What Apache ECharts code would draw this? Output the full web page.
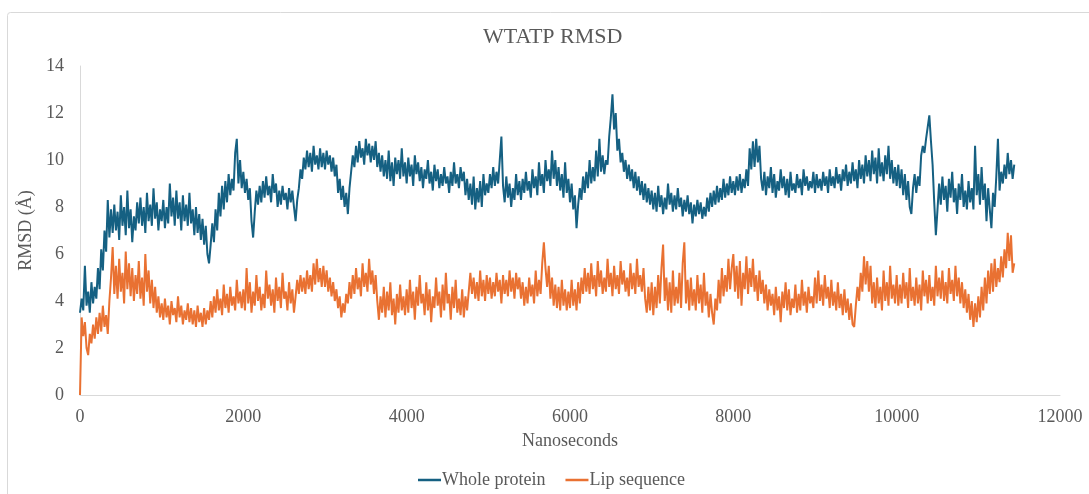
<!DOCTYPE html>
<html>
<head>
<meta charset="utf-8">
<script src="https://cdn.jsdelivr.net/npm/echarts@6/dist/echarts.min.js"></script>
<style>html,body{margin:0;padding:0;background:#fff;font-family:"Liberation Serif",serif;}#c{width:1089px;height:494px;}</style>
</head>
<body>
<div id="c"></div>
<script>
const title = 'WTATP RMSD';
const seriesNames = ['Whole protein', 'Lip sequence'];
const xAxisName = 'Nanoseconds';
const yAxisName = 'RMSD (Å)';
const sampleStepNs = 20;
const xTicks = [0, 2000, 4000, 6000, 8000, 10000, 12000];
const yTicks = [0, 2, 4, 6, 8, 10, 12, 14];

const wholeProtein = [
3.5,4.1,3.6,5.5,3.8,4.4,3.5,4.8,3.9,4.6,4.1,5.4,4.5,6.2,5.3,7.0,6.1,8.3,6.7,7.9,6.9,8.1,7.0,7.8,6.6,8.5,7.2,8.0,6.8,8.7,7.1,7.9,6.5,7.6,7.0,8.2,7.3,8.4,7.2,8.0,6.9,8.6,7.4,8.1,7.2,8.8,7.5,8.2,7.0,7.9,
7.4,8.3,7.1,8.0,7.3,9.0,7.6,8.4,7.2,8.7,7.5,8.2,7.0,8.5,7.4,8.1,7.2,8.6,7.3,7.9,6.8,8.0,6.9,7.7,6.6,7.5,6.4,7.2,6.0,5.6,6.4,7.3,6.5,7.9,7.0,8.6,7.6,8.9,7.9,9.1,8.2,9.4,8.5,9.2,8.7,10.3,10.9,9.0,10.0,8.8,
9.5,8.6,9.2,8.3,8.8,7.4,6.7,7.8,8.7,8.1,8.9,8.2,9.1,8.4,9.3,8.5,8.9,8.2,9.4,8.6,9.0,8.0,8.7,8.1,8.9,8.3,8.6,7.9,8.8,8.2,8.7,8.0,7.4,8.3,8.8,9.6,9.2,10.1,9.6,10.4,9.7,10.3,9.5,10.6,9.8,10.2,9.6,10.5,9.7,10.3,
9.6,10.4,9.8,10.2,9.5,10.1,9.3,9.8,8.6,9.2,8.3,8.9,8.0,8.6,7.7,8.8,9.5,10.2,9.7,10.6,9.9,10.8,10.1,10.5,9.8,10.9,10.2,10.7,9.9,10.6,10.0,10.8,9.7,10.3,9.5,10.2,9.3,10.0,9.2,10.4,9.1,9.9,8.9,10.1,9.4,10.0,9.2,10.5,9.3,9.9,
9.0,10.1,9.3,9.8,8.9,10.2,9.4,9.9,9.1,9.7,8.8,9.6,9.2,10.0,9.0,9.5,8.7,9.8,9.1,9.6,8.8,9.4,8.9,9.7,9.0,9.3,8.6,9.5,8.9,9.9,9.0,9.4,8.8,9.7,9.1,9.5,8.5,9.2,8.3,9.0,8.1,9.3,7.9,8.8,8.2,9.1,8.0,9.4,8.5,9.0,
8.6,9.4,8.8,9.7,8.9,9.5,9.0,10.0,11.0,8.9,8.2,9.3,8.4,9.0,8.0,8.8,8.3,9.4,8.5,9.1,8.3,9.2,8.6,9.5,8.7,9.1,8.4,9.6,8.8,9.3,8.5,9.9,8.9,9.4,8.6,10.0,9.1,9.6,8.9,10.4,9.2,10.0,8.9,9.7,8.7,9.4,8.4,9.9,8.6,9.2,
8.2,9.0,7.9,8.5,7.1,8.1,8.8,8.3,9.3,8.6,9.5,8.8,10.0,9.0,9.7,9.1,10.4,9.3,10.9,9.5,10.2,9.4,10.0,9.8,11.0,11.8,12.8,11.3,12.0,10.4,10.9,9.9,10.3,9.5,10.0,9.2,9.8,9.1,9.6,8.8,9.5,8.7,9.3,8.5,9.1,8.3,9.0,8.2,8.8,8.1,
8.7,7.9,8.6,7.8,8.9,8.0,8.5,7.7,8.4,7.9,9.0,8.1,8.6,7.8,8.5,7.9,8.8,8.0,8.4,7.6,8.3,7.8,8.5,7.7,8.2,7.3,8.1,7.6,8.3,7.7,8.2,7.5,8.0,7.6,8.4,7.8,8.6,8.0,8.7,8.1,8.9,8.2,8.8,8.3,9.2,8.4,9.0,8.5,9.3,8.6,
9.1,8.5,9.3,8.7,9.4,8.6,9.2,8.8,9.6,8.9,10.5,9.6,10.8,9.7,10.9,9.9,10.6,9.2,8.7,9.5,8.5,9.3,8.8,9.7,8.6,9.4,8.4,9.1,8.7,9.6,8.8,9.3,8.5,9.2,8.4,9.5,8.7,9.0,8.6,9.4,8.8,9.2,8.5,9.6,8.9,9.3,8.7,9.1,8.8,9.5,
8.6,9.4,8.8,9.2,8.7,9.5,8.9,9.3,8.6,9.6,8.9,9.3,8.8,9.7,9.0,9.4,8.7,9.6,9.1,9.8,8.9,9.5,9.0,9.9,9.1,9.6,8.8,10.0,9.2,9.8,9.0,10.2,9.3,10.0,9.1,10.4,9.4,10.1,9.0,10.5,9.3,9.9,9.1,10.2,9.4,10.6,9.2,10.0,9.0,9.7,
8.9,9.8,8.8,9.6,8.5,9.4,8.3,9.1,8.0,7.7,8.8,9.4,8.6,9.3,8.9,10.2,10.6,10.3,10.9,11.4,11.9,10.8,9.8,8.2,6.8,7.9,9.0,8.1,9.3,8.3,8.9,7.8,9.2,8.4,9.5,8.2,8.8,7.7,9.0,8.3,9.4,8.0,8.7,7.9,9.1,8.2,8.8,7.9,10.6,8.5,
9.4,8.1,9.7,8.3,9.0,7.4,8.8,7.9,7.1,8.6,8.0,9.3,10.9,8.7,9.5,9.0,9.8,9.2,10.3,9.4,10.0,9.2,9.8
];

const lipSequence = [
0,3.3,2.5,3.1,2.0,1.7,2.6,2.2,3.0,2.4,3.3,2.6,3.5,2.7,3.8,2.9,3.4,2.6,4.0,5.0,6.3,4.3,5.5,4.1,5.8,4.4,5.2,3.9,6.1,4.5,5.6,4.2,5.4,4.0,5.1,4.3,5.7,4.1,5.0,3.8,6.0,4.4,5.3,3.9,4.9,3.7,4.6,3.5,4.2,3.3,
3.9,3.2,4.1,3.3,3.8,3.0,4.0,3.4,3.7,3.1,4.2,3.3,3.8,3.0,3.6,3.2,3.9,3.1,3.7,3.0,3.6,2.9,3.8,3.1,3.5,2.9,3.7,3.0,3.6,3.2,4.0,3.3,4.2,3.5,4.5,3.6,4.1,3.4,4.7,3.7,4.3,3.5,4.6,3.8,4.2,3.6,4.9,3.9,4.4,3.7,
4.5,3.6,5.4,3.9,4.8,3.5,4.4,3.8,5.1,4.0,4.6,3.6,4.3,3.7,5.3,4.1,4.7,3.8,4.5,3.5,5.0,4.0,4.6,3.7,5.2,4.1,4.4,3.6,4.8,3.9,4.5,3.5,4.2,4.9,4.3,5.1,4.4,5.0,4.3,5.3,4.5,5.1,4.4,5.6,4.7,5.8,4.8,5.4,4.6,5.5,
4.6,5.3,4.4,5.0,4.2,4.8,4.0,4.5,3.7,4.2,3.3,3.9,3.5,4.3,3.9,4.8,4.1,5.1,4.3,5.4,4.5,5.0,4.2,5.6,4.6,5.2,4.4,5.8,4.7,5.3,4.3,5.1,4.0,3.2,4.2,3.5,4.6,3.3,4.4,3.6,4.8,3.4,4.1,3.0,4.3,3.5,4.7,3.6,4.2,3.4,
4.5,3.5,4.9,3.7,4.4,3.2,4.6,3.8,5.1,3.9,4.3,3.4,4.8,3.6,4.5,3.1,4.2,3.7,5.0,3.8,4.4,3.3,4.7,3.6,5.2,3.9,4.3,3.2,4.6,3.7,4.9,3.5,4.1,3.4,4.5,3.3,4.2,3.6,4.4,5.2,4.3,5.0,4.1,4.8,4.0,5.3,4.2,4.9,4.0,5.1,
4.3,5.0,4.1,4.8,4.2,5.2,4.4,4.9,3.9,5.1,4.3,4.9,4.2,5.3,4.4,5.0,4.1,5.2,4.5,5.0,4.1,4.8,3.8,4.6,3.9,5.0,4.2,4.7,3.9,5.3,4.2,4.9,4.3,5.6,6.5,5.4,4.6,5.5,4.1,5.0,3.8,4.7,3.7,4.6,3.6,4.9,3.8,4.5,3.6,4.4,
3.7,4.9,3.8,4.5,3.6,4.8,3.9,5.0,4.3,5.4,4.4,5.2,4.3,5.6,4.5,5.1,4.2,5.7,4.6,5.3,4.3,5.0,4.4,5.8,4.6,5.2,4.2,5.5,4.5,5.1,4.3,5.7,4.7,5.3,4.4,5.0,4.2,5.6,4.5,5.2,4.3,5.8,4.6,5.1,4.4,5.4,4.1,3.5,4.6,3.6,
4.8,3.4,4.6,3.7,5.1,3.9,5.4,6.4,4.0,5.0,3.6,4.8,3.5,5.3,3.8,4.6,3.9,5.2,3.7,5.6,6.5,3.9,4.9,3.6,5.0,3.8,4.5,3.6,5.1,3.9,4.7,3.5,5.2,3.8,4.4,3.3,4.3,3.5,3.0,4.1,3.6,4.9,3.9,5.4,4.2,5.1,4.4,5.8,4.5,5.4,
6.0,4.4,5.5,4.1,5.7,3.8,5.2,4.5,5.9,4.3,5.4,4.6,5.8,4.4,5.1,4.0,5.3,4.3,4.9,3.9,4.7,3.6,4.5,3.8,4.3,3.4,4.6,3.6,4.2,3.1,4.4,3.7,4.8,3.6,4.5,3.4,4.1,3.7,4.7,3.5,4.3,3.6,4.9,3.8,4.4,3.5,4.6,3.9,4.2,3.7,
5.0,3.9,5.3,4.0,4.7,3.8,5.1,4.1,4.6,3.7,4.9,3.8,4.4,3.6,4.8,3.7,4.3,3.4,4.5,3.5,4.1,3.2,3.9,3.0,2.9,3.8,4.6,4.0,5.2,4.4,5.9,4.7,5.7,4.4,5.5,3.9,4.8,3.7,5.0,3.9,4.6,3.6,5.3,4.0,4.8,3.8,5.5,4.1,4.7,3.9,
5.1,3.8,4.7,3.9,5.2,4.1,4.8,3.7,5.4,4.0,4.6,3.8,5.0,3.9,4.7,3.6,5.3,4.2,4.9,3.9,5.1,4.0,4.6,3.8,5.5,4.2,5.0,4.1,5.3,4.0,4.8,3.9,5.4,4.3,4.9,4.0,5.5,4.2,5.0,3.9,4.8,3.7,4.5,3.5,4.3,3.2,4.0,2.9,3.9,3.1,
4.2,3.3,4.6,3.6,5.0,3.9,5.3,4.3,5.6,4.4,5.8,4.6,5.4,4.8,5.9,5.0,6.2,5.4,6.9,5.7,6.8,5.2,5.6
];

const font = '"Liberation Serif", "Times New Roman", serif';
const toPairs = arr => arr.map((v, i) => [i * sampleStepNs, v]);
const txt = '#595959';
const axisColor = '#d9d9d9';
const blue = '#156082';
const orange = '#e97132';

const chart = echarts.init(document.getElementById('c'));
chart.setOption({
  animation: false,
  backgroundColor: '#ffffff',
  textStyle: {fontFamily: font},
  title: {
    text: title, left: 478, top: 21,
    textStyle: {fontFamily: font, fontSize: 22, fontWeight: 'normal', color: txt}
  },
  grid: {left: 80, right: 29, top: 66, bottom: 99, containLabel: false},
  legend: {
    bottom: 0, left: 413,
    data: seriesNames,
    icon: 'rect', itemWidth: 23, itemHeight: 2.5, itemGap: 20,
    textStyle: {fontFamily: font, fontSize: 18, color: txt, padding: [0,0,0,-4]}
  },
  xAxis: {
    type: 'value', min: xTicks[0], max: xTicks[xTicks.length-1], interval: 2000,
    name: xAxisName, nameLocation: 'middle', nameGap: 37,
    nameTextStyle: {fontFamily: font, fontSize: 18, color: txt},
    axisLine: {show: true, lineStyle: {color: axisColor, width: 1}},
    axisTick: {show: false},
    splitLine: {show: false},
    axisLabel: {fontFamily: font, fontSize: 18, color: txt, margin: 13, formatter: v => String(v)}
  },
  yAxis: {
    type: 'value', min: yTicks[0], max: yTicks[yTicks.length-1], interval: 2,
    name: yAxisName, nameLocation: 'middle', nameGap: 31, nameRotate: 90,
    nameTextStyle: {fontFamily: font, fontSize: 18, color: txt},
    axisLine: {show: true, lineStyle: {color: axisColor, width: 1}},
    axisTick: {show: false},
    splitLine: {show: false},
    axisLabel: {fontFamily: font, fontSize: 18, color: txt, margin: 16, formatter: v => String(v)}
  },
  graphic: [{
    type: 'rect', silent: true, z: -10,
    shape: {x: 7.5, y: 12.5, width: 1200, height: 600, r: 3},
    style: {fill: 'none', stroke: axisColor, lineWidth: 1}
  }],
  series: [
    {name: seriesNames[0], type: 'line', data: toPairs(wholeProtein), showSymbol: false, symbol: 'none',
     lineStyle: {color: blue, width: 2}, itemStyle: {color: blue}},
    {name: seriesNames[1], type: 'line', data: toPairs(lipSequence), showSymbol: false, symbol: 'none',
     lineStyle: {color: orange, width: 2}, itemStyle: {color: orange}}
  ]
});
</script>
</body>
</html>
